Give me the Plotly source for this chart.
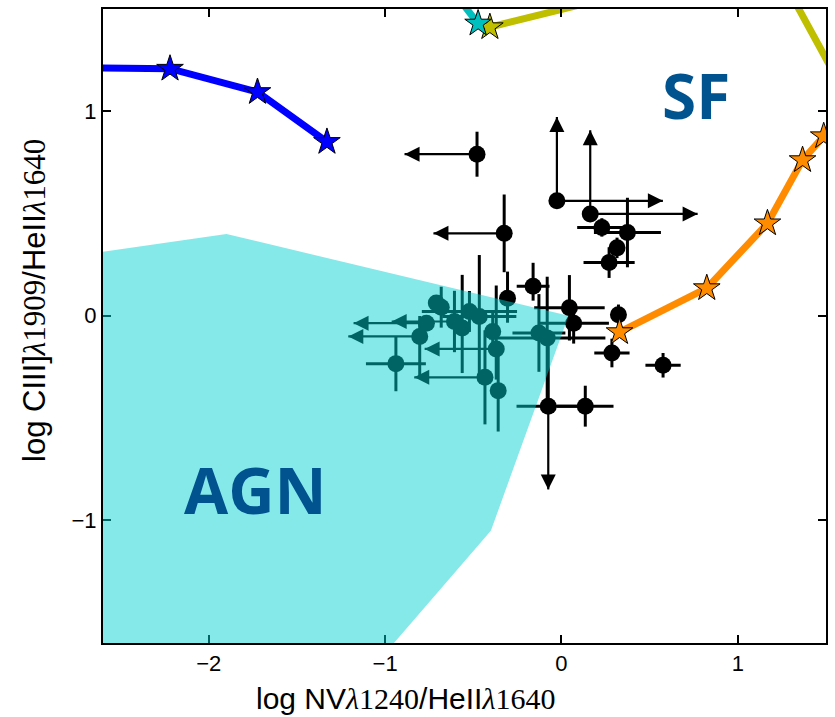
import plotly.graph_objects as go

# ---------------- data ----------------
# observed objects: x = log NV/HeII, y = log CIII]/HeII
obs_x = [-0.479, -0.026, 0.163, 0.229, 0.374, 0.315, 0.270, -0.325, -0.161, -0.306,
         0.045, 0.069, 0.323, 0.286, 0.576, -0.075, 0.135,
         -0.939, -0.804, -0.766, -0.682, -0.710, -0.607, -0.563, -0.522, -0.466,
         -0.390, -0.370, -0.434, -0.359, -0.128, -0.081]
obs_y = [0.790, 0.562, 0.498, 0.432, 0.407, 0.332, 0.260, 0.403, 0.144, 0.086,
         0.039, -0.036, 0.005, -0.182, -0.242, -0.442, -0.442,
         -0.234, -0.101, -0.036, 0.042, 0.063, -0.028, -0.060, 0.021, -0.003,
         -0.077, -0.162, -0.301, -0.366, -0.084, -0.109]
obs_xerr_minus = [0, 0, 0, 0.14, 0.19, 0.03, 0.145, 0, 0.093, 0,
                  0.20, 0.20, 0.03, 0.10, 0.10, 0.18, 0.16,
                  0.17, 0, 0, 0, 0, 0, 0, 0.27, 0.21,
                  0, 0, 0, 0, 0.15, 0.33]
obs_xerr_plus = [0, 0, 0, 0.14, 0.19, 0.03, 0.145, 0, 0.093, 0,
                 0.20, 0.20, 0.03, 0.10, 0.10, 0.18, 0.16,
                 0.17, 0, 0, 0, 0, 0, 0, 0.27, 0.21,
                 0, 0, 0, 0, 0.15, 0.33]
obs_yerr_minus = [0.11, 0, 0, 0.045, 0.17, 0.05, 0.075, 0.19, 0.07, 0.12,
                  0.16, 0.10, 0.05, 0.07, 0.06, 0, 0.10,
                  0.135, 0.20, 0, 0.10, 0, 0.15, 0.22, 0.10, 0.30,
                  0.10, 0.15, 0.23, 0.20, 0.19, 0.30]
obs_yerr_plus = [0.11, 0, 0, 0.045, 0.17, 0.05, 0.075, 0.19, 0.115, 0.13,
                 0.16, 0.10, 0.05, 0.07, 0.06, 0.30, 0.10,
                 0.135, 0.10, 0, 0.10, 0, 0.15, 0.26, 0.10, 0.30,
                 0.10, 0.31, 0.23, 0.20, 0.19, 0.30]

# limits (arrows): start point and arrow tip
left_x = [-0.479, -0.325, -0.804, -0.766, -0.607, -0.370, -0.434]
left_y = [0.790, 0.403, -0.101, -0.036, -0.028, -0.162, -0.301]
left_tip = [-0.890, -0.726, -1.209, -1.179, -0.963, -0.776, -0.835]
right_x = [-0.026, 0.163]
right_y = [0.562, 0.498]
right_tip = [0.575, 0.772]
up_x = [-0.026, 0.163]
up_y = [0.562, 0.498]
up_tip = [0.972, 0.907]
down_x = [-0.075]
down_y = [-0.442]
down_tip = [-0.849]

# model tracks
blue_line_x = [-2.90, -2.22, -1.724, -1.33]
blue_line_y = [1.215, 1.208, 1.094, 0.850]
blue_star_x = [-2.22, -1.724, -1.33]
blue_star_y = [1.208, 1.094, 0.850]

orange_line_x = [0.329, 0.824, 1.168, 1.367, 1.487, 1.70]
orange_line_y = [-0.080, 0.135, 0.452, 0.761, 0.878, 1.10]
orange_star_x = [0.329, 0.824, 1.168, 1.367, 1.487]
orange_star_y = [-0.080, 0.135, 0.452, 0.761, 0.878]

yellow_line_x = [-0.406, 0.30, 1.20, 1.60]
yellow_line_y = [1.411, 1.562, 1.730, 1.100]
yellow_star_x = [-0.406]
yellow_star_y = [1.411]

cyan_line_x = [-0.473, -0.60]
cyan_line_y = [1.429, 1.570]
cyan_star_x = [-0.473]
cyan_star_y = [1.429]

# AGN region polygon
agn_x = [-2.70, -1.90, 0.04, -0.40, -0.43, -0.95, -2.70]
agn_y = [0.30, 0.40, 0.00, -1.05, -1.08, -1.60, -1.60]

X_RANGE = [-2.6, 1.5]
Y_RANGE = [-1.6, 1.5]

fig = go.Figure()

# observed points with error bars
fig.add_trace(go.Scatter(
    x=obs_x, y=obs_y, mode="markers",
    marker=dict(color="black", size=17, line=dict(width=0)),
    error_x=dict(type="data", symmetric=False, array=obs_xerr_plus,
                 arrayminus=obs_xerr_minus, color="black", thickness=3, width=0),
    error_y=dict(type="data", symmetric=False, array=obs_yerr_plus,
                 arrayminus=obs_yerr_minus, color="black", thickness=3, width=0),
    showlegend=False, hoverinfo="skip"))

# limit arrows: shafts
def shafts(xs, ys, tips, horizontal):
    lx, ly = [], []
    for x0, y0, t in zip(xs, ys, tips):
        if horizontal:
            lx += [x0, t, None]
            ly += [y0, y0, None]
        else:
            lx += [x0, x0, None]
            ly += [y0, t, None]
    return lx, ly

for xs, ys, tips, horiz, sym in [
        (left_x, left_y, left_tip, True, "arrow-left"),
        (right_x, right_y, right_tip, True, "arrow-right"),
        (up_x, up_y, up_tip, False, "arrow-up"),
        (down_x, down_y, down_tip, False, "arrow-down")]:
    lx, ly = shafts(xs, ys, tips, horiz)
    fig.add_trace(go.Scatter(x=lx, y=ly, mode="lines",
                             line=dict(color="black", width=2.2),
                             showlegend=False, hoverinfo="skip"))
    hx = tips if horiz else xs
    hy = ys if horiz else tips
    fig.add_trace(go.Scatter(x=hx, y=hy, mode="markers",
                             marker=dict(symbol=sym, size=15, color="black",
                                         line=dict(width=0)),
                             showlegend=False, hoverinfo="skip"))

# model tracks
for lx, ly, sx, sy, col in [
        (blue_line_x, blue_line_y, blue_star_x, blue_star_y, "#0000ff"),
        (yellow_line_x, yellow_line_y, yellow_star_x, yellow_star_y, "#bfbf00"),
        (cyan_line_x, cyan_line_y, cyan_star_x, cyan_star_y, "#00bfbf"),
        (orange_line_x, orange_line_y, orange_star_x, orange_star_y, "#ff8c00")]:
    fig.add_trace(go.Scatter(x=lx, y=ly, mode="lines",
                             line=dict(color=col, width=7),
                             showlegend=False, hoverinfo="skip"))
    fig.add_trace(go.Scatter(x=sx, y=sy, mode="markers",
                             marker=dict(symbol="star", size=20, color=col,
                                         line=dict(color="black", width=1)),
                             showlegend=False, hoverinfo="skip"))

# AGN region drawn above everything in the plot area
path = "M " + " L ".join(f"{x},{y}" for x, y in zip(agn_x, agn_y)) + " Z"
fig.add_shape(type="path", path=path, xref="x", yref="y", layer="above",
              fillcolor="rgba(0,206,209,0.48)", line=dict(width=0))

fig.add_annotation(x=0.76, y=1.08, xref="x", yref="y", text="<b>SF</b>",
                   showarrow=False, font=dict(family="Open Sans", size=62, color="#01538f"))
fig.add_annotation(x=-1.735, y=-0.849, xref="x", yref="y", text="<b>AGN</b>",
                   showarrow=False, font=dict(family="Open Sans", size=64, color="#01538f"))

serif = "<span style='font-family:Liberation Serif'><i>λ</i>{}</span>"
xtitle = "log NV" + serif.format("1240") + "/HeII" + serif.format("1640")
ytitle = "log CIII]" + serif.format("1909") + "/HeII" + serif.format("1640")

fig.add_annotation(x=0.419, y=-0.087, xref="paper", yref="paper", text=xtitle,
                   showarrow=False, yanchor="middle", xanchor="center",
                   font=dict(family="Liberation Sans Narrow, Liberation Sans", size=30, color="black"))
fig.add_annotation(x=-0.095, y=0.54, xref="paper", yref="paper", text=ytitle,
                   showarrow=False, textangle=-90, yanchor="middle", xanchor="center",
                   font=dict(family="Liberation Sans Narrow, Liberation Sans", size=31, color="black"))

axis_common = dict(showgrid=False, zeroline=False, showline=True, linecolor="black",
                   linewidth=2, mirror="ticks", ticks="inside", ticklen=8, tickwidth=2,
                   tickcolor="black", tickfont=dict(family="Liberation Sans", size=22, color="black"))
fig.update_xaxes(range=X_RANGE, tickvals=[-2, -1, 0, 1], ticktext=["−2", "−1", "0", "1"],
                 **axis_common)
fig.update_yaxes(range=Y_RANGE, tickvals=[-1, 0, 1], ticktext=["−1", "0", "1"],
                 **axis_common)

fig.update_layout(width=835, height=717, margin=dict(l=103, r=7, t=8, b=74),
                  plot_bgcolor="white", paper_bgcolor="white")

fig.write_html("out.html")
